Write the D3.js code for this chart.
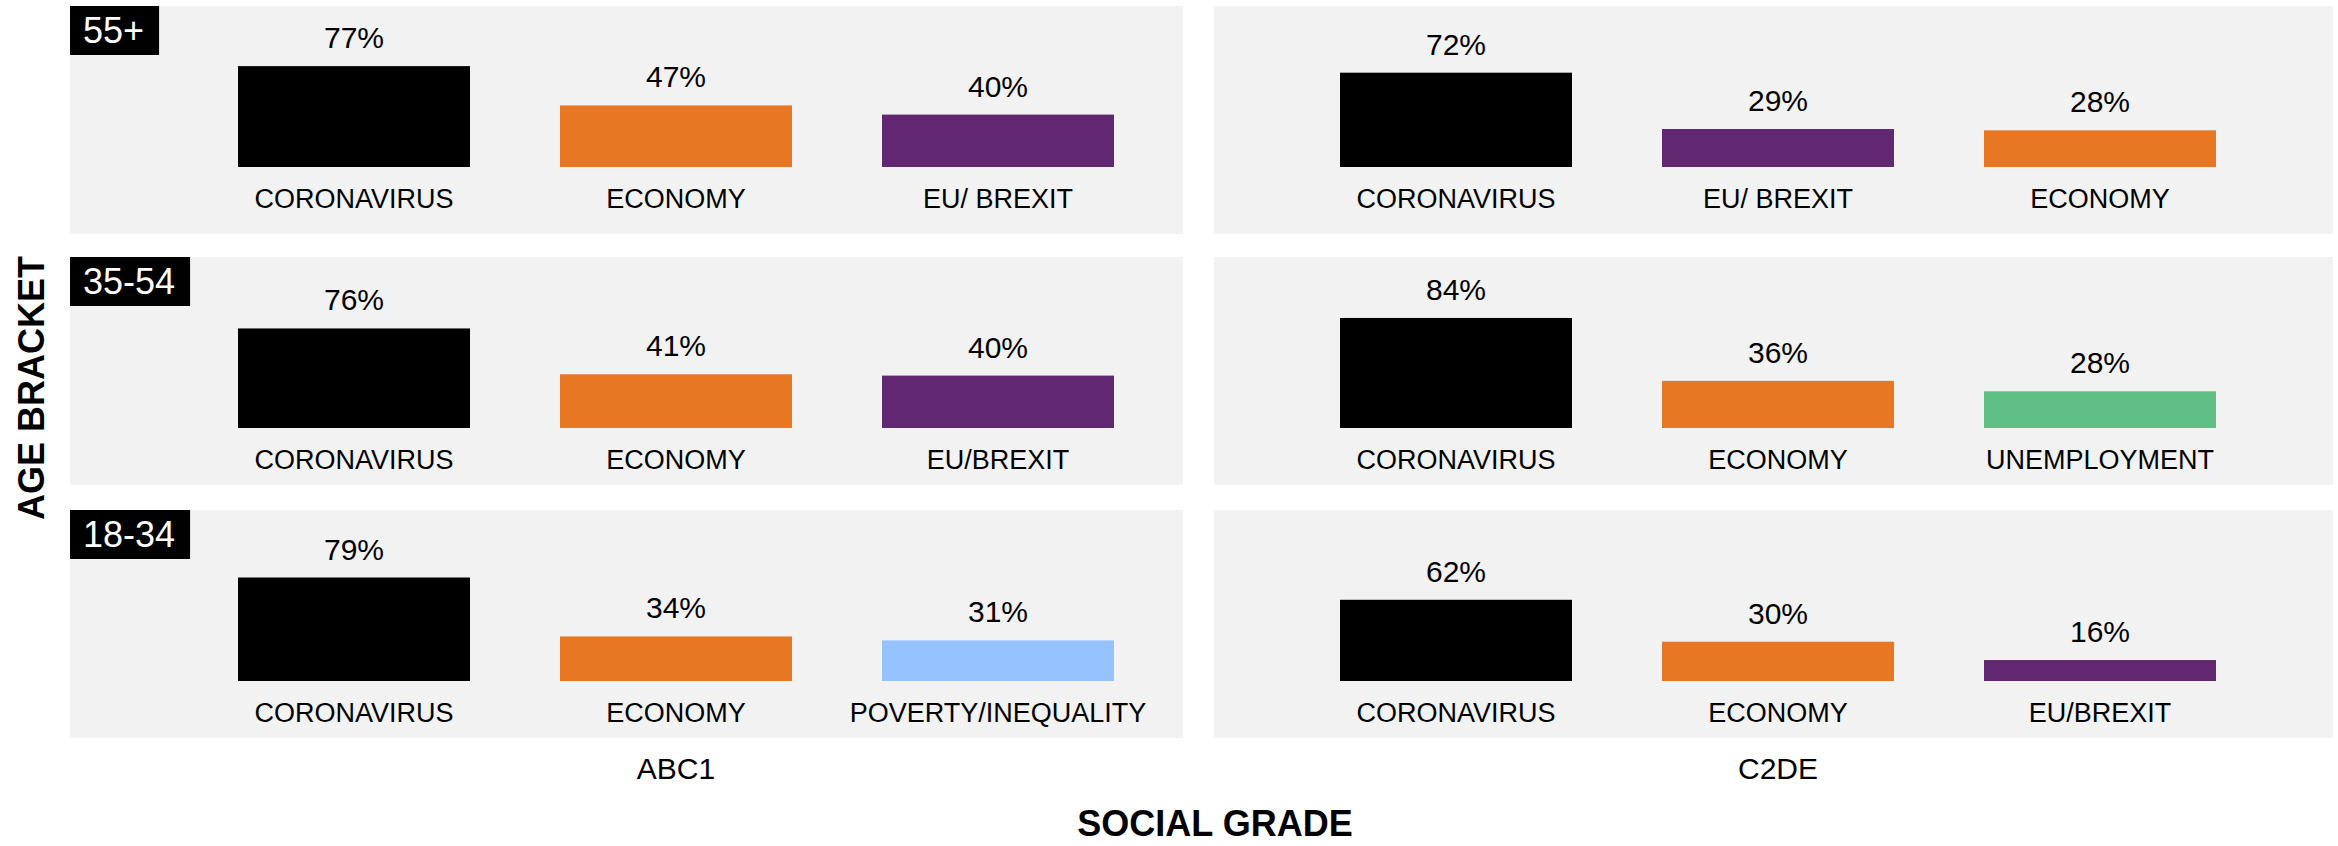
<html>
<head>
<meta charset="utf-8">
<script src="https://cdn.jsdelivr.net/npm/d3@7"></script>
<style>
body { margin: 0; background: white; }
text { font-family: "Liberation Sans", Arial, sans-serif; fill: black; }
.panel { fill: #f2f2f2; }
.rowlabel { fill: white; }
.axistitle { font-weight: bold; }
</style>
</head>
<body>
<div id="container"></div>
<script>
// age brackets (rows) and social grades (columns)
var ageBrackets = ["55+", "35-54", "18-34"];
var socialGrades = ["ABC1", "C2DE"];

// top 3 issues per age bracket, ABC1
var abc1Issues = [
    ["CORONAVIRUS", "ECONOMY", "EU/ BREXIT"],
    ["CORONAVIRUS", "ECONOMY", "EU/BREXIT"],
    ["CORONAVIRUS", "ECONOMY", "POVERTY/INEQUALITY"]
];
var abc1Values = [
    [77, 47, 40],
    [76, 41, 40],
    [79, 34, 31]
];

// top 3 issues per age bracket, C2DE
var c2deIssues = [
    ["CORONAVIRUS", "EU/ BREXIT", "ECONOMY"],
    ["CORONAVIRUS", "ECONOMY", "UNEMPLOYMENT"],
    ["CORONAVIRUS", "ECONOMY", "EU/BREXIT"]
];
var c2deValues = [
    [72, 29, 28],
    [84, 36, 28],
    [62, 30, 16]
];

var issueColors = {
    "CORONAVIRUS": "#000000",
    "ECONOMY": "#e77723",
    "EU/BREXIT": "#622771",
    "POVERTY/INEQUALITY": "#95c3ff",
    "UNEMPLOYMENT": "#5fbe84"
};

var width = 2338, height = 846;

var svg = d3.select("#container").append("svg")
    .attr("width", width)
    .attr("height", height);

// layout of the 3x2 grid of panels
var panelH = 228;
var rowTop = [6, 257, 510];
var rowBase = [161, 171, 171];       // baseline offset inside each row
var colLeft = [70, 1214];
var colWidth = [1113, 1119];
var colBarStart = [168, 126];        // first bar offset inside the panel

var x = d3.scaleBand()
    .domain([0, 1, 2])
    .range([0, 876])
    .paddingInner(0.2795)
    .paddingOuter(0);

var h = d3.scaleLinear()
    .domain([0, 100])
    .range([0, 131]);

var issuesByCol = [abc1Issues, c2deIssues];
var valuesByCol = [abc1Values, c2deValues];

function colorFor(name) {
    return issueColors[name.replace(/\s/g, "")] || "#999";
}

ageBrackets.forEach(function(age, r) {
    socialGrades.forEach(function(grade, c) {
        var g = svg.append("g")
            .attr("class", "panel-g")
            .attr("transform", `translate(${colLeft[c]},${rowTop[r]})`);

        g.append("rect")
            .attr("class", "panel")
            .attr("width", colWidth[c])
            .attr("height", panelH);

        var items = issuesByCol[c][r].map(function(name, i) {
            return { name: name, value: valuesByCol[c][r][i], i: i };
        });

        var bars = g.append("g")
            .attr("transform", `translate(${colBarStart[c]},${rowBase[r]})`);

        bars.selectAll("rect.bar")
            .data(items)
            .enter()
            .append("rect")
            .attr("class", "bar")
            .attr("x", function(d) { return x(d.i); })
            .attr("y", function(d) { return -h(d.value); })
            .attr("width", x.bandwidth())
            .attr("height", function(d) { return h(d.value); })
            .attr("fill", function(d) { return colorFor(d.name); });

        bars.selectAll("text.value")
            .data(items)
            .enter()
            .append("text")
            .attr("class", "value")
            .attr("x", function(d) { return x(d.i) + x.bandwidth() / 2; })
            .attr("y", function(d) { return -h(d.value) - 18; })
            .attr("text-anchor", "middle")
            .style("font-size", "30px")
            .text(function(d) { return d.value + "%"; });

        bars.selectAll("text.cat")
            .data(items)
            .enter()
            .append("text")
            .attr("class", "cat")
            .attr("x", function(d) { return x(d.i) + x.bandwidth() / 2; })
            .attr("y", 41)
            .attr("text-anchor", "middle")
            .style("font-size", "27px")
            .text(function(d) { return d.name; });

        // age label box on the left column only
        if (c == 0) {
            var lab = g.append("g");
            var t = lab.append("text")
                .attr("class", "rowlabel")
                .attr("x", 13)
                .attr("y", 37)
                .style("font-size", "36px")
                .text(age);
            var tw = t.node().getComputedTextLength();
            lab.insert("rect", "text")
                .attr("x", 0)
                .attr("y", 0)
                .attr("width", tw + 28)
                .attr("height", 49)
                .attr("fill", "black");
        }

        // social grade label under bottom row
        if (r == ageBrackets.length - 1) {
            svg.append("text")
                .attr("x", colLeft[c] + colBarStart[c] + 876 / 2)
                .attr("y", 779)
                .attr("text-anchor", "middle")
                .style("font-size", "30px")
                .text(grade);
        }
    });
});

svg.append("text")
    .attr("class", "axistitle")
    .attr("x", 1215)
    .attr("y", 836)
    .attr("text-anchor", "middle")
    .style("font-size", "36px")
    .text("SOCIAL GRADE");

svg.append("text")
    .attr("class", "axistitle")
    .attr("transform", "translate(44,388) rotate(-90)")
    .attr("text-anchor", "middle")
    .style("font-size", "36px")
    .text("AGE BRACKET");
</script>
</body>
</html>
